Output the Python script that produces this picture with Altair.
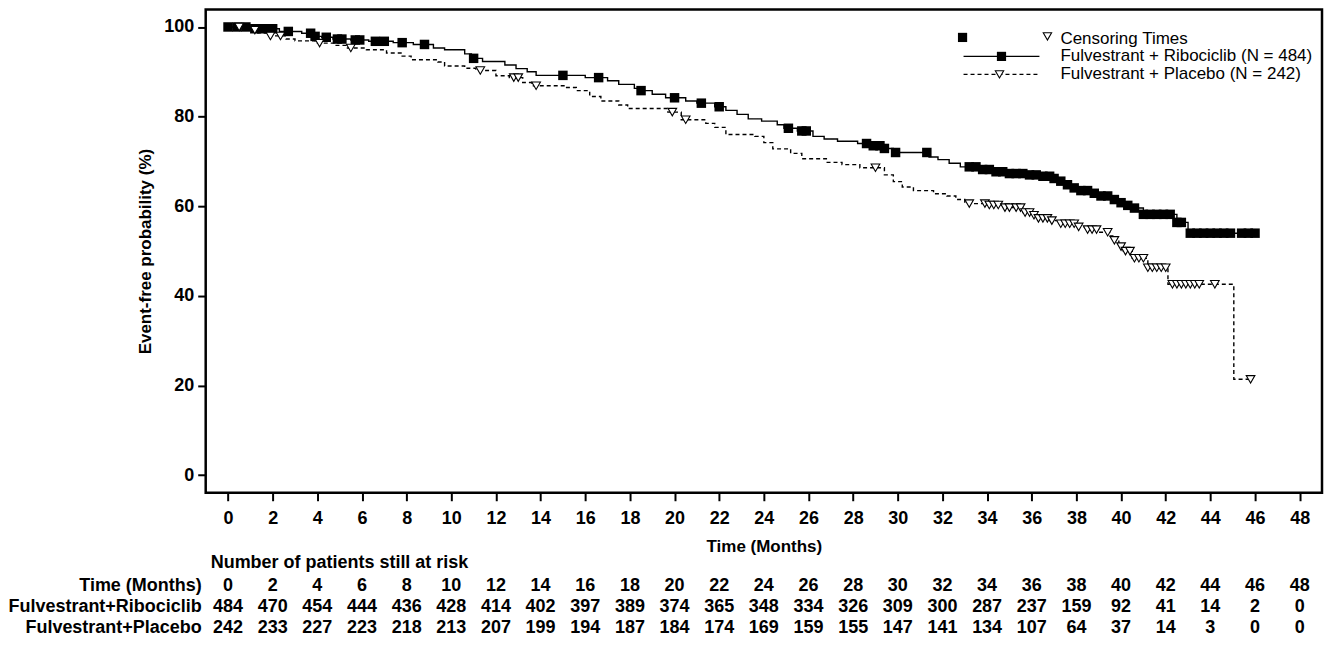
import altair as alt
import pandas as pd
import numpy as np

# ---------------- data ----------------
# Fulvestrant + Ribociclib: Kaplan-Meier steps (time in months, event-free %)
rib_t = [0, 0.9, 2.3, 3.3, 3.8, 4.2, 4.7, 5.5, 6.3, 7.4, 8.3, 9.2, 9.7, 10.6, 10.9,
         11.4, 12.4, 12.9, 13.4, 13.8, 16.0, 17.0, 17.5, 18.2, 18.5, 19.0, 19.6,
         20.5, 21.0, 21.8, 22.3, 22.8, 23.3, 23.9, 24.6, 24.9, 25.5, 26.2, 26.7,
         27.3, 28.2, 28.8, 29.3, 29.8, 31.4, 31.8, 32.3, 32.8, 33.6, 34.2, 35.0,
         35.8, 36.4, 36.9, 37.3, 37.6, 37.9, 38.2, 38.6, 39.0, 39.6, 39.9, 40.3,
         40.6, 41.0, 42.5, 43.0, 46.0]
rib_s = [100, 99.6, 99.0, 98.6, 97.9, 97.7, 97.3, 97.1, 96.8, 96.5, 96.1, 95.3, 94.9,
         94.0, 93.0, 92.3, 91.5, 90.7, 90.0, 89.2, 88.7, 88.0, 87.2, 86.3, 85.8,
         85.0, 84.2, 83.5, 83.0, 82.2, 81.4, 80.5, 79.5, 79.0, 78.2, 77.4, 76.8,
         75.6, 75.0, 74.5, 74.0, 73.5, 72.9, 72.0, 71.0, 70.4, 69.6, 68.8, 68.2,
         67.7, 67.3, 67.0, 66.7, 66.2, 65.6, 64.8, 64.1, 63.5, 62.9, 62.3, 61.5,
         60.8, 60.2, 59.6, 58.2, 56.4, 54.0, 54.0]
rib_cens = [0.0, 0.4, 0.8, 1.2, 1.5, 1.8, 2.0, 2.7, 3.7, 3.9, 4.4, 4.9, 5.1, 5.7, 5.9,
            6.6, 7.0, 7.8, 8.8, 11.0, 15.0, 16.6, 18.5, 20.0, 21.2, 22.0, 25.1, 25.7,
            25.9, 28.6, 28.9, 29.2, 29.4, 29.9, 31.3, 33.2, 33.5, 33.8, 34.1, 34.4,
            34.7, 35.0, 35.3, 35.6, 35.9, 36.2, 36.5, 36.8, 37.0, 37.3, 37.6, 37.9,
            38.2, 38.5, 38.8, 39.1, 39.4, 39.7, 40.0, 40.3, 40.6, 41.0, 41.3, 41.6,
            41.9, 42.2, 42.5, 42.7, 43.1, 43.4, 43.7, 44.0, 44.3, 44.6, 44.9, 45.4,
            45.7, 46.0]

# Fulvestrant + Placebo
pla_t = [0, 0.7, 1.3, 1.9, 2.6, 3.0, 3.9, 4.8, 5.3, 6.2, 7.1, 7.8, 8.2, 9.4, 9.7,
         10.6, 11.1, 12.0, 12.6, 13.2, 13.6, 15.1, 15.6, 16.2, 16.7, 17.5, 17.9,
         19.7, 20.3, 21.4, 21.8, 22.3, 23.6, 24.0, 24.4, 25.2, 25.7, 26.8, 27.5,
         28.3, 29.4, 29.8, 30.2, 30.7, 31.6, 32.2, 32.6, 33.0, 34.0, 34.8, 35.6,
         36.0, 36.3, 36.8, 37.2, 38.0, 38.4, 39.0, 39.5, 39.7, 39.9, 40.1, 40.5,
         41.2, 42.1, 45.05, 45.8]
pla_s = [100, 99.3, 98.7, 98.0, 97.3, 96.9, 96.4, 95.9, 95.3, 94.9, 94.2, 93.5, 92.7,
         92.2, 91.3, 90.8, 90.3, 89.1, 88.7, 87.6, 86.9, 86.5, 85.8, 84.5, 83.5,
         82.6, 81.8, 81.0, 79.3, 78.5, 77.6, 76.0, 75.6, 74.2, 72.8, 71.8, 70.6,
         69.8, 69.3, 68.6, 67.0, 65.5, 64.3, 63.5, 62.8, 62.3, 61.5, 60.6, 60.3,
         59.7, 58.6, 58.0, 57.3, 56.8, 56.1, 55.4, 54.8, 54.2, 53.4, 52.4, 51.0,
         50.0, 48.4, 46.3, 42.6, 21.4, 21.4]
pla_cens = [0.5, 1.2, 1.9, 2.35, 4.1, 5.5, 11.3, 12.8, 13.0, 13.8, 19.9, 20.5, 29.0,
            33.2, 33.9, 34.1, 34.3, 34.5, 34.8, 35.0, 35.3, 35.5, 35.7, 35.9, 36.1,
            36.3, 36.5, 36.7, 36.9, 37.3, 37.5, 37.7, 37.9, 38.1, 38.5, 38.7, 38.9,
            39.4, 39.7, 40.0, 40.2, 40.4, 40.6, 40.8, 41.0, 41.2, 41.4, 41.6, 41.8,
            42.0, 42.3, 42.5, 42.7, 42.9, 43.1, 43.3, 43.5, 44.2, 45.8]

# Number at risk
risk_times = list(range(0, 49, 2))
risk_rib = [484, 470, 454, 444, 436, 428, 414, 402, 397, 389, 374, 365, 348, 334, 326,
            309, 300, 287, 237, 159, 92, 41, 14, 2, 0]
risk_pla = [242, 233, 227, 223, 218, 213, 207, 199, 194, 187, 184, 174, 169, 159, 155,
            147, 141, 134, 107, 64, 37, 14, 3, 0, 0]

ARM_R = "Fulvestrant + Ribociclib (N = 484)"
ARM_P = "Fulvestrant + Placebo (N = 242)"


def value_at(times, surv, t):
    i = np.searchsorted(np.array(times), t, side="right") - 1
    return surv[max(i, 0)]


curve_df = pd.concat([
    pd.DataFrame({"t": rib_t, "s": rib_s, "arm": ARM_R}),
    pd.DataFrame({"t": pla_t, "s": pla_s, "arm": ARM_P}),
])
rib_c_df = pd.DataFrame({"t": rib_cens, "s": [value_at(rib_t, rib_s, t) for t in rib_cens]})
pla_c_df = pd.DataFrame({"t": pla_cens, "s": [value_at(pla_t, pla_s, t) for t in pla_cens]})
risk_df = pd.DataFrame({
    "t": risk_times,
    "time_lbl": [str(v) for v in risk_times],
    "rib": [str(v) for v in risk_rib],
    "pla": [str(v) for v in risk_pla],
})

# ---------------- layout ----------------
W, H = 1118, 484
FONT = "Liberation Sans"
BFS = 18  # bold text size

x_scale = alt.Scale(domain=[-1, 49], nice=False, zero=False)
y_scale = alt.Scale(domain=[-3.9, 103.9], nice=False, zero=False)
x_axis = alt.Axis(values=risk_times, title="Time (Months)", labelPadding=9,
                  titlePadding=11, tickSize=8)
y_axis = alt.Axis(values=[0, 20, 40, 60, 80, 100], title="Event-free probability (%)",
                  labelPadding=4, titlePadding=9, tickSize=8)
X = alt.X("t:Q", scale=x_scale, axis=x_axis)
Y = alt.Y("s:Q", scale=y_scale, axis=y_axis)

curves = alt.Chart(curve_df).mark_line(interpolate="step-after", color="black",
                                       strokeWidth=1.4).encode(
    x=X, y=Y,
    strokeDash=alt.StrokeDash("arm:N", scale=alt.Scale(domain=[ARM_R, ARM_P],
                                                       range=[[1, 0], [4, 3]]),
                              legend=None),
)
rib_marks = alt.Chart(rib_c_df).mark_square(size=90, color="black", opacity=1).encode(x=X, y=Y)
pla_marks = alt.Chart(pla_c_df).mark_point(shape="triangle-down", size=75, filled=True,
                                           fill="white", stroke="black", strokeWidth=1.1,
                                           opacity=1).encode(x=X, y=Y)

# Number at risk table (below the x axis)
tbl_font = dict(font=FONT, fontWeight="bold", fontSize=BFS, color="black", baseline="middle")
row_head, row_time, row_r, row_p = H + 70, H + 93, H + 114, H + 135
tbl_time = alt.Chart(risk_df).mark_text(**tbl_font).encode(x=X, y=alt.value(row_time), text="time_lbl:N")
tbl_r = alt.Chart(risk_df).mark_text(**tbl_font).encode(x=X, y=alt.value(row_r), text="rib:N")
tbl_p = alt.Chart(risk_df).mark_text(**tbl_font).encode(x=X, y=alt.value(row_p), text="pla:N")

one = pd.DataFrame({"k": [0]})


def label(txt, x, y, align="right", weight="bold", size=BFS):
    return alt.Chart(one).mark_text(font=FONT, fontWeight=weight, fontSize=size, color="black",
                                    align=align, baseline="middle").encode(
        x=alt.value(x), y=alt.value(y), text=alt.value(txt))


lab_head = label("Number of patients still at risk", 5, row_head, align="left")
lab_time = label("Time (Months)", -4, row_time)
lab_r = label("Fulvestrant+Ribociclib", -4, row_r)
lab_p = label("Fulvestrant+Placebo", -4, row_p)

# Key (top right)
kx_text = W - 262
kx_l0, kx_l1 = W - 359, W - 283
ky = [30, 47, 65]
leg_text = [
    label("Censoring Times", kx_text, ky[0], align="left", weight="normal", size=17),
    label(ARM_R, kx_text, ky[1], align="left", weight="normal", size=17),
    label(ARM_P, kx_text, ky[2], align="left", weight="normal", size=17),
]
leg_sq1 = alt.Chart(one).mark_square(size=85, color="black", opacity=1).encode(
    x=alt.value(W - 360), y=alt.value(ky[0] - 2))
leg_tr1 = alt.Chart(one).mark_point(shape="triangle-down", size=70, filled=True, fill="white",
                                    stroke="black", strokeWidth=1.1, opacity=1).encode(
    x=alt.value(W - 275), y=alt.value(ky[0] - 3))
leg_line1 = alt.Chart(one).mark_rule(color="black", strokeWidth=1.4).encode(
    x=alt.value(kx_l0), x2=alt.value(kx_l1), y=alt.value(ky[1]))
leg_sq2 = alt.Chart(one).mark_square(size=85, color="black", opacity=1).encode(
    x=alt.value((kx_l0 + kx_l1) / 2), y=alt.value(ky[1]))
leg_line2 = alt.Chart(one).mark_rule(color="black", strokeWidth=1.4, strokeDash=[4, 3]).encode(
    x=alt.value(kx_l0), x2=alt.value(kx_l1), y=alt.value(ky[2]))
leg_tr2 = alt.Chart(one).mark_point(shape="triangle-down", size=70, filled=True, fill="white",
                                    stroke="black", strokeWidth=1.1, opacity=1).encode(
    x=alt.value((kx_l0 + kx_l1) / 2 - 2), y=alt.value(ky[2]))

chart = alt.layer(
    curves, rib_marks, pla_marks,
    tbl_time, tbl_r, tbl_p, lab_head, lab_time, lab_r, lab_p,
    *leg_text, leg_line1, leg_sq2, leg_line2, leg_tr2, leg_sq1, leg_tr1,
).properties(
    width=W, height=H, padding={"left": 0, "top": 1, "right": 2, "bottom": 0},
    background="white",
).configure_view(
    stroke="black", strokeWidth=2.5,
).configure_axis(
    grid=False, domain=False, labelFont=FONT, labelFontWeight="bold", labelFontSize=BFS,
    labelColor="black", tickColor="black", tickWidth=2, titleFont=FONT,
    titleFontWeight="bold", titleFontSize=17, titleColor="black",
)

chart.save("out.html", embed_options={"renderer": "svg", "actions": False})
